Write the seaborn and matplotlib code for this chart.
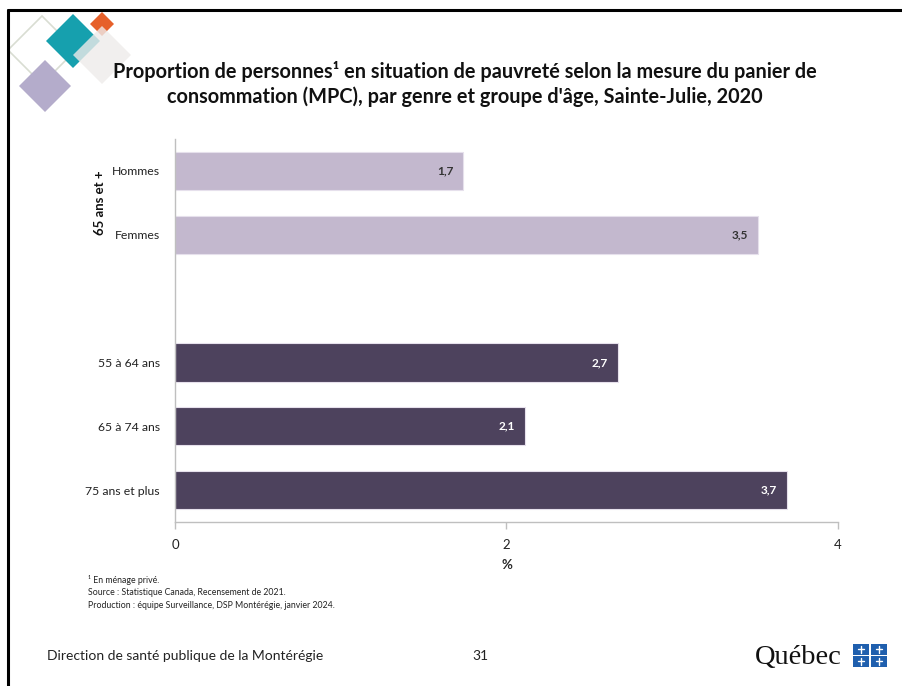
import matplotlib
matplotlib.use("Agg")
import matplotlib.pyplot as plt
import seaborn as sns
import pandas as pd
from matplotlib.patches import Polygon, Rectangle

# ---- data ----
categories = ["Hommes", "Femmes", "55 à 64 ans", "65 à 74 ans", "75 ans et plus"]
values = [1.74, 3.52, 2.67, 2.11, 3.69]
groups = ["65 ans et +", "65 ans et +", "âge", "âge", "âge"]
order = ["Hommes", "Femmes", " ", "55 à 64 ans", "65 à 74 ans", "75 ans et plus"]
x_ticks = [0, 2, 4]
title = ("Proportion de personnes¹ en situation de pauvreté selon la mesure du panier de\n"
         "consommation (MPC), par genre et groupe d'âge, Sainte-Julie, 2020")
notes = ["¹ En ménage privé.",
         "Source : Statistique Canada, Recensement de 2021.",
         "Production : équipe Surveillance, DSP Montérégie, janvier 2024."]

LIGHT = "#C3B4D2"
DARK = "#4C3D62"

sns.set_theme(style="white")
plt.rcParams["font.family"] = ["Lato", "DejaVu Sans"]

W, H = 902, 686
fig = plt.figure(figsize=(W / 100, H / 100), dpi=100)

df = pd.DataFrame({"cat": categories, "val": values, "grp": groups})
pal = {c: (LIGHT if g != "âge" else DARK) for c, g in zip(categories, groups)}

ax = fig.add_axes([175 / W, 1 - 522 / H, (838 - 175) / W, (522 - 139) / H])
sns.barplot(data=df, x="val", y="cat", order=order, hue="cat", palette=pal,
            legend=False, width=0.6, ax=ax, edgecolor="#E6E0EC", linewidth=0.8)

ax.set_xlim(0, 4)
ax.set_xticks(x_ticks)
ax.set_xticklabels([str(t) for t in x_ticks], fontsize=9.5, color="#222222")
ax.set_xlabel("%", fontsize=9.5, fontweight="bold", labelpad=6)
ax.set_ylabel("")
ax.tick_params(axis="y", length=0, pad=11, labelsize=8.8, labelcolor="#222222")
ax.tick_params(axis="x", length=5, width=1, color="#BFBFBF", direction="out", pad=7,
               bottom=True)
for s in ["top", "right"]:
    ax.spines[s].set_visible(False)
for s in ["left", "bottom"]:
    ax.spines[s].set_color("#BFBFBF")
    ax.spines[s].set_linewidth(1)
ax.grid(False)

# value labels
for c, v, g in zip(categories, values, groups):
    yi = order.index(c)
    col = "white" if g == "âge" else "#333333"
    ax.text(v - 0.06, yi, f"{v:.1f}".replace(".", ","), ha="right", va="center",
            fontsize=8.5, fontweight="bold", color=col)

# group label
fig.text(100 / W, 1 - 203 / H, "65 ans et +", rotation=90, ha="center", va="center",
         fontsize=9.5, fontweight="bold", color="#111111")

# title
fig.text(465 / W, 1 - 84 / H, title, ha="center", va="center", fontsize=14.3,
         fontweight="bold", color="#111111", linespacing=1.3)

# footnotes
for i, n in enumerate(notes):
    fig.text(88 / W, 1 - (580 + i * 12.5) / H, n, ha="left", va="center",
             fontsize=6.3, color="#222222")

# overlay axes for slide decorations
ov = fig.add_axes([0, 0, 1, 1], zorder=-1)
ov.set_xlim(0, W)
ov.set_ylim(H, 0)
ov.axis("off")

def diamond(cx, cy, r, **kw):
    return Polygon([(cx, cy - r), (cx + r, cy), (cx, cy + r), (cx - r, cy)], closed=True, **kw)

ov.add_patch(diamond(42, 50, 34, facecolor="none", edgecolor="#D9DDD2", linewidth=1.2))
ov.add_patch(diamond(45, 86, 26, facecolor="#B4ACCB", edgecolor="none"))
ov.add_patch(diamond(73, 41, 27, facecolor="#16A0AE", edgecolor="none"))
ov.add_patch(diamond(102, 24, 12, facecolor="#E6602A", edgecolor="none"))
ov.add_patch(diamond(102, 55, 29, facecolor="#EEEBEA", edgecolor="none", alpha=0.8))

# slide border (top and left)
ov.plot([8, W], [10, 10], color="black", linewidth=2.2)
ov.plot([8, 8], [10, H], color="black", linewidth=2.2)

# footer
ov.text(47, 656, "Direction de santé publique de la Montérégie", ha="left", va="center",
        fontsize=10, color="#222222")
ov.text(480, 656, "31", ha="center", va="center", fontsize=10, color="#222222")
ov.text(755, 657, "Québec", ha="left", va="center", fontsize=20.5,
        family=["Liberation Serif", "DejaVu Serif"], color="#111111")
for dx in (0, 1):
    for dy in (0, 1):
        x0, y0 = 853 + dx * 18, 644 + dy * 12
        ov.add_patch(Rectangle((x0, y0), 16, 10.5, facecolor="#1F5FAE", edgecolor="none"))
        ov.plot([x0 + 8, x0 + 8], [y0 + 2, y0 + 8.5], color="white", linewidth=1)
        ov.plot([x0 + 5, x0 + 11], [y0 + 5.2, y0 + 5.2], color="white", linewidth=1)

fig.savefig("out.png", dpi=100)
